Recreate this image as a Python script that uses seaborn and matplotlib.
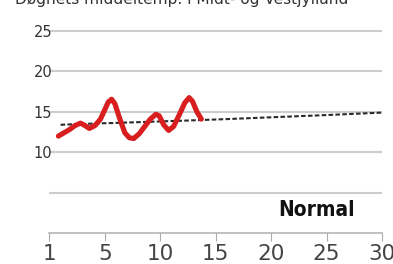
import matplotlib
matplotlib.use("Agg")
import matplotlib.pyplot as plt
import seaborn as sns
import pandas as pd

# ---- data ----
# observed daily mean temperature (smooth red curve), x = day position
obs_day = [0.8, 1.3, 1.8, 2.3, 2.8, 3.2, 3.6, 4.1, 4.6, 5.0, 5.3, 5.6, 5.9, 6.3,
           6.8, 7.2, 7.6, 8.1, 8.6, 9.1, 9.6, 9.9, 10.3, 10.75, 11.2, 11.7,
           12.2, 12.6, 12.9, 13.3, 13.7]
obs_temp = [12.0, 12.4, 12.8, 13.3, 13.6, 13.3, 12.95, 13.3, 14.1, 15.3, 16.2,
            16.55, 16.0, 14.3, 12.4, 11.8, 11.7, 12.3, 13.2, 14.1, 14.7, 14.5,
            13.4, 12.7, 13.2, 14.6, 16.1, 16.75, 16.3, 15.0, 14.1]

# normal temperature (dashed line), days 1..30
normal_day = list(range(1, 31))
normal_temp = [13.40, 13.45, 13.50, 13.55, 13.59, 13.63, 13.68, 13.72, 13.77,
               13.81, 13.86, 13.90, 13.95, 14.00, 14.05, 14.10, 14.16, 14.21,
               14.27, 14.32, 14.38, 14.43, 14.49, 14.54, 14.60, 14.66, 14.72,
               14.78, 14.84, 14.90]

x_tick_pos = [0, 5, 10, 15, 20, 25, 30]
x_tick_labels = ["1", "5", "10", "15", "20", "25", "30"]
y_tick_pos = [5, 10, 15, 20, 25]
y_tick_labels = ["", "10", "15", "20", "25"]

title_text = "Døgnets middeltemp. i Midt- og Vestjylland"
legend_text = "Normal"

# ---- drawing ----
sns.set_style("white")
plt.rcParams["font.family"] = ["DejaVu Sans"]

fig = plt.figure(figsize=(3.93, 2.64), dpi=100)
ax = fig.add_axes([49.5 / 393, (264 - 233.3) / 264, 332.5 / 393, 0.7977])

obs_df = pd.DataFrame({"day": obs_day, "temp": obs_temp})
norm_df = pd.DataFrame({"day": normal_day, "temp": normal_temp})

sns.lineplot(data=norm_df, x="day", y="temp", ax=ax, color="#2a2a2a",
             linewidth=1.5, linestyle=(0, (2.2, 1.1)), zorder=3)
sns.lineplot(data=obs_df, x="day", y="temp", ax=ax, color="#d81e1e",
             linewidth=3.7, solid_capstyle="round", solid_joinstyle="round",
             zorder=4)

ax.set_xlim(0, 30)
ax.set_ylim(0, 26)
ax.set_xticks(x_tick_pos)
ax.set_xticklabels(x_tick_labels)
ax.set_yticks(y_tick_pos)
ax.set_yticklabels(y_tick_labels)
ax.set_xlabel("")
ax.set_ylabel("")

ax.yaxis.grid(True, color="#cccccc", linewidth=1.5)
ax.xaxis.grid(False)
ax.set_axisbelow(True)

for s in ["top", "right", "left"]:
    ax.spines[s].set_visible(False)
ax.spines["bottom"].set_color("#bbbbbb")
ax.spines["bottom"].set_linewidth(1.3)

ax.tick_params(axis="x", length=6, width=0.8, color="#aaaaaa",
               labelsize=15.5, labelcolor="#444444", pad=2, bottom=True)
ax.tick_params(axis="y", length=0, labelsize=10.5, labelcolor="#333333", pad=-2)

fig.text(348 / 393, 1 - 4 / 264, title_text, ha="right", va="baseline",
         fontsize=11.1, color="#333333")
fig.text(355 / 393, 1 - 216.5 / 264, legend_text, ha="right", va="baseline",
         fontsize=15, fontweight="bold", fontstretch="condensed",
         color="#111111")

fig.savefig("out.png", dpi=100)
